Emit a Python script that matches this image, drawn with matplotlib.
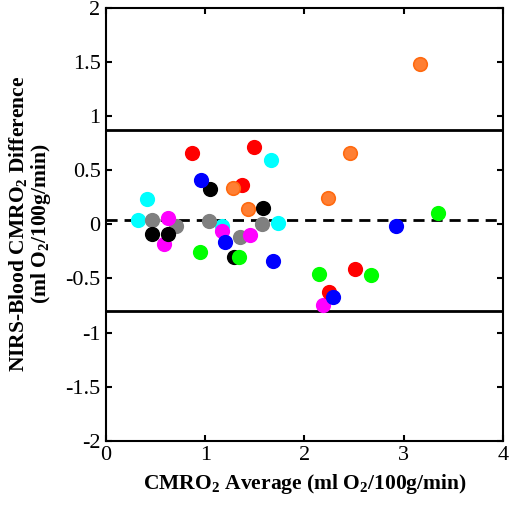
import numpy as np
import matplotlib
matplotlib.use('Agg')
import matplotlib.pyplot as plt

plt.rcParams['font.family'] = 'Liberation Serif'
plt.rcParams['mathtext.default'] = 'regular'

# CMRO2 average (x) and NIRS-Blood difference (y), one group per colour
cyan_x = [0.325, 0.416, 1.165, 1.659, 1.735]
cyan_y = [0.037, 0.23, -0.018, 0.59, 0.012]
gray_x = [0.466, 0.705, 1.037, 1.349, 1.568]
gray_y = [0.037, -0.016, 0.03, -0.117, 0.006]
magenta_x = [0.627, 0.584, 1.171, 1.45, 2.188]
magenta_y = [0.053, -0.178, -0.062, -0.10, -0.748]
black_x = [0.46, 0.627, 1.047, 1.292, 1.584]
black_y = [-0.092, -0.086, 0.329, -0.302, 0.154]
red_x = [0.863, 1.367, 1.493, 2.246, 2.508]
red_y = [0.662, 0.36, 0.713, -0.63, -0.409]
blue_x = [0.954, 1.198, 1.685, 2.283, 2.927]
blue_y = [0.406, -0.163, -0.337, -0.671, -0.018]
green_x = [0.947, 1.342, 2.145, 2.669, 3.346]
green_y = [-0.256, -0.30, -0.455, -0.471, 0.108]
orange_x = [1.276, 1.433, 2.233, 2.464, 3.162]
orange_y = [0.33, 0.138, 0.243, 0.662, 1.483]

mean_diff = 0.037
upper_loa = 0.868
lower_loa = -0.80

fig = plt.figure(figsize=(5.1, 5.05), dpi=100)
ax = fig.add_axes([0.208, 0.127, 0.778, 0.858])

ax.axhline(upper_loa, color='black', linewidth=2)
ax.axhline(lower_loa, color='black', linewidth=2)
ax.axhline(mean_diff, color='black', linewidth=2, linestyle=(0, (4, 2.5)))

groups = [
    (cyan_x, cyan_y, '#00FFFF', '#00FFFF'),
    (gray_x, gray_y, '#808080', '#808080'),
    (magenta_x, magenta_y, '#FF00FF', '#FF00FF'),
    (black_x, black_y, '#000000', '#000000'),
    (red_x, red_y, '#FF0000', '#FF0000'),
    (blue_x, blue_y, '#0000FF', '#0000FF'),
    (green_x, green_y, '#00FF00', '#00FF00'),
    (orange_x, orange_y, '#FF7F33', '#FF6A10'),
]
for gx, gy, fc, ec in groups:
    ax.scatter(gx, gy, s=95, color=fc, edgecolors=ec, linewidths=1.2, zorder=3)

ax.set_xlim(0, 4)
ax.set_ylim(-2, 2)
ax.set_xticks([0, 1, 2, 3, 4])
ax.set_yticks([-2, -1.5, -1, -0.5, 0, 0.5, 1, 1.5, 2])
ax.set_yticklabels(['-2', '-1.5', '-1', '-0.5', '0', '0.5', '1', '1.5', '2'])
ax.tick_params(direction='in', length=4, width=1.5, top=True, right=True,
               labelsize=16, pad=4)
for sp in ax.spines.values():
    sp.set_linewidth(1.5)

ax.set_xlabel('CMRO$_2$ Average (ml O$_2$/100g/min)', fontsize=15.5,
              fontweight='bold', labelpad=5)
ax.set_ylabel('NIRS-Blood CMRO$_2$ Difference\n(ml O$_2$/100g/min)',
              fontsize=15.5, fontweight='bold', labelpad=9, linespacing=1.0)

fig.savefig('out.png', dpi=100)
